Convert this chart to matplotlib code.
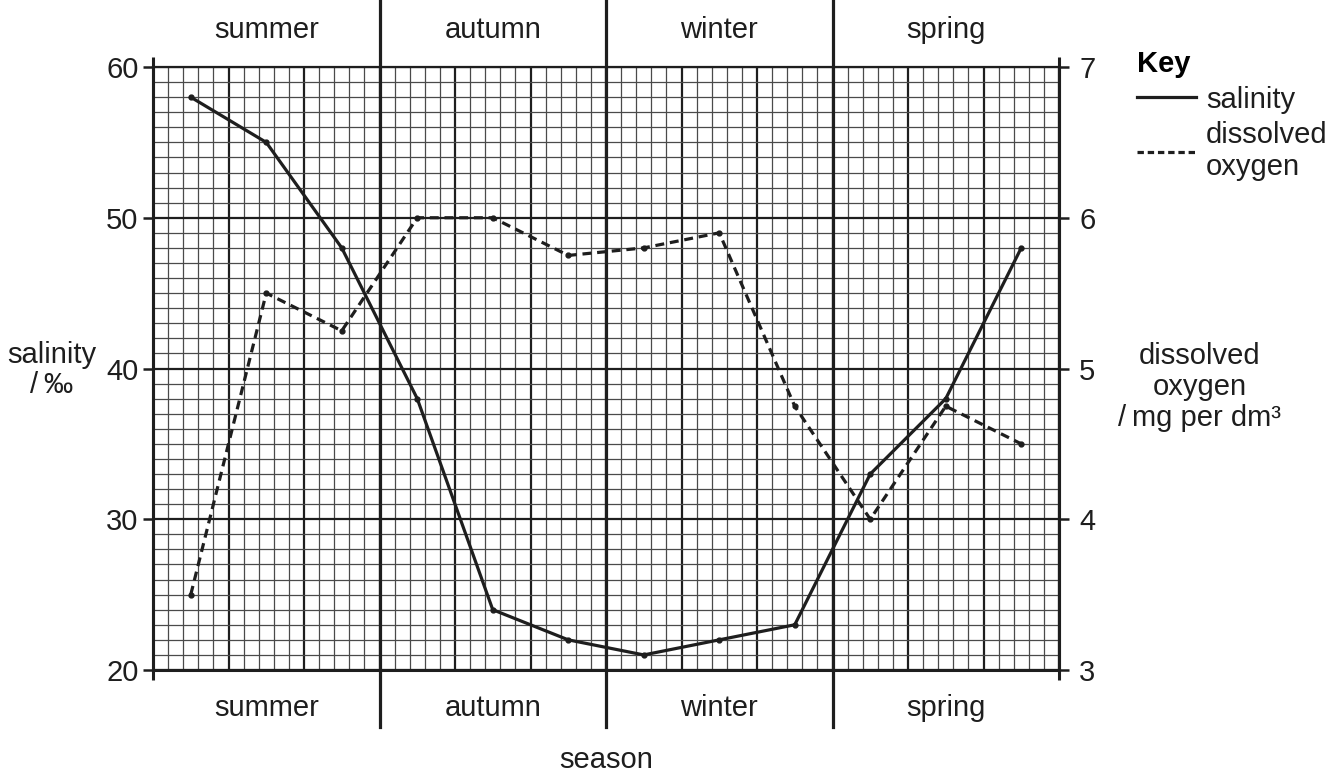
import matplotlib
matplotlib.use("Agg")
import matplotlib.pyplot as plt
import matplotlib.transforms as mtransforms
from matplotlib.ticker import MultipleLocator
import numpy as np

plt.rcParams['font.family'] = ['Liberation Sans', 'DejaVu Sans']

# Data (12 samples across the year).
seasons = ["summer", "autumn", "winter", "spring"]
salinity = [58, 55, 48, 38, 24, 22, 21, 22, 23, 33, 38, 48]
oxygen = [3.5, 5.5, 5.25, 6.0, 6.0, 5.75, 5.8, 5.9, 4.75, 4.0, 4.75, 4.5]
sal_ticks = [20, 30, 40, 50, 60]
oxy_ticks = [3, 4, 5, 6, 7]

ink = "#1e1e1e"
fs = 21

fig = plt.figure(figsize=(13.44, 7.74), dpi=100)
ax = fig.add_axes([153 / 1344, 1 - 670 / 774, 906 / 1344, 603 / 774])

n = len(salinity)
x = np.arange(n) + 0.5
per_season = n // len(seasons)

ax.set_xlim(0, n)
ax.set_ylim(sal_ticks[0], sal_ticks[-1])

# Graph-paper grid.
ax.xaxis.set_major_locator(MultipleLocator(1))
ax.xaxis.set_minor_locator(MultipleLocator(0.2))
ax.yaxis.set_major_locator(MultipleLocator(10))
ax.yaxis.set_minor_locator(MultipleLocator(1))
ax.grid(which="minor", color="#4a4a4a", lw=0.9)
ax.grid(which="major", color=ink, lw=1.6)
ax.set_axisbelow(True)
ax.set_yticks(sal_ticks)
ax.tick_params(axis="x", which="both", length=0, labelbottom=False)
ax.tick_params(axis="y", which="major", direction="out", length=7.5,
               width=1.8, color=ink, labelsize=fs, pad=3, labelcolor=ink)
ax.tick_params(axis="y", which="minor", length=0)

for side in ["left", "right", "bottom"]:
    ax.spines[side].set_linewidth(2.2)
    ax.spines[side].set_color(ink)
ax.spines["top"].set_linewidth(1.6)
ax.spines["top"].set_color(ink)

# Little cross extensions of the vertical axes at the corners.
for xa in [0, 1]:
    ax.plot([xa, xa], [-0.016, 1.016], transform=ax.transAxes, color=ink,
            lw=2.2, clip_on=False, solid_capstyle="butt")

# Lines.
ax.plot(x, salinity, color=ink, lw=2.3, marker="o", ms=3.5, zorder=5)

ax2 = ax.twinx()
ax2.set_ylim(oxy_ticks[0], oxy_ticks[-1])
ax2.set_yticks(oxy_ticks)
ax2.tick_params(axis="y", direction="out", length=7.5, width=1.8, color=ink,
                labelsize=fs, pad=7, labelcolor=ink)
for side in ["left", "right", "bottom", "top"]:
    ax2.spines[side].set_visible(False)
ax2.plot(x, oxygen, color=ink, lw=2.3, ls=(0, (2.8, 1.8)), marker="o",
         ms=3.5, zorder=5)

# Season dividers and labels.
trans = mtransforms.blended_transform_factory(ax.transData, ax.transAxes)
for i in range(1, len(seasons)):
    ax.plot([i * per_season] * 2, [-0.095, 1.12], transform=trans,
            color=ink, lw=2.3, clip_on=False, zorder=6)
for i, s in enumerate(seasons):
    cx = i * per_season + per_season / 2
    ax.text(cx, 1.061, s, transform=trans, ha="center", va="center",
            fontsize=fs, color=ink)
    ax.text(cx, -0.063, s, transform=trans, ha="center", va="center",
            fontsize=fs, color=ink)

# Axis labels.
fig.text(52 / 1344, 1 - 370 / 774, "salinity\n/\u2009\u2030", ha="center",
         va="center", fontsize=fs, color=ink, multialignment="center",
         linespacing=1.1)
fig.text(1200 / 1344, 1 - 387 / 774, "dissolved\noxygen\n/\u2009mg per dm\u00b3",
         ha="center", va="center", fontsize=fs, color=ink,
         multialignment="center", linespacing=1.15)
fig.text(606 / 1344, 1 - 760 / 774, "season", ha="center", va="center",
         fontsize=fs, color=ink)

# Key.
h1, = ax.plot([], [], color=ink, lw=2.3)
h2, = ax.plot([], [], color=ink, lw=2.3, ls=(0, (2.0, 1.2)))
leg = fig.legend([h1, h2], ["salinity", "dissolved\noxygen"],
                 loc="upper left", bbox_to_anchor=(1130 / 1344, 1 - 43 / 774),
                 frameon=False, fontsize=fs, handlelength=2.0,
                 handletextpad=0.35, labelspacing=0.25, title="Key",
                 title_fontproperties={"weight": "bold", "size": fs},
                 alignment="left", borderaxespad=0, borderpad=0.25)
for t in leg.get_texts():
    t.set_color(ink)
    t.set_linespacing(1.2)

fig.savefig("out.png", dpi=100)
